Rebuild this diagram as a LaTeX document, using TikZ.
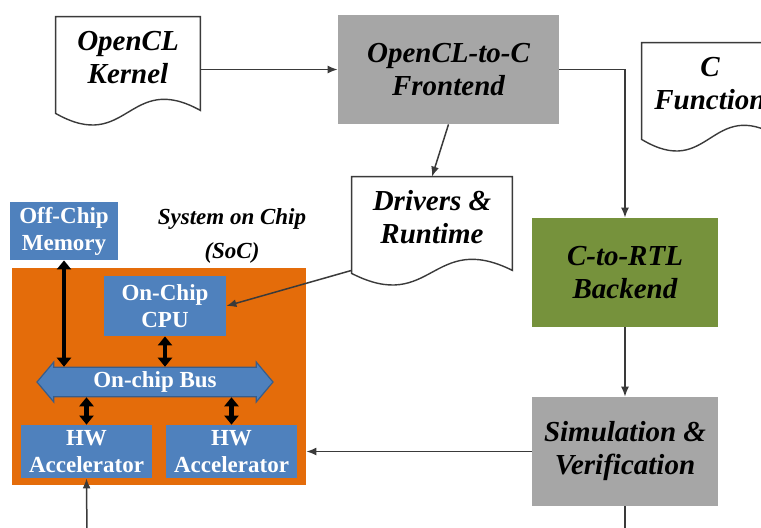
\documentclass[tikz,border=0pt]{standalone}
\usepackage{fontspec}
\setmainfont{Liberation Serif}
\usetikzlibrary{arrows.meta,shapes.arrows}

\definecolor{stagegray}{HTML}{A6A6A6}
\definecolor{rtlgreen}{HTML}{76923C}
\definecolor{socorange}{HTML}{E46C0A}
\definecolor{blockblue}{HTML}{4F81BD}
\definecolor{busedge}{HTML}{385D8A}
\definecolor{linegray}{HTML}{3A3A3A}

\newcommand{\docoutline}[1]{%
  \draw[docline] (#1.north west) -- (#1.north east) -- ([yshift=-6pt]#1.south east)
    .. controls ([yshift=14pt]#1.south) and ([yshift=-28pt]#1.south) .. ([yshift=-7.5pt]#1.south west) -- cycle;}

\begin{document}
\begin{tikzpicture}[x=0.5pt,y=-0.5pt]
  \tikzset{
    lbl/.style={font=\fontsize{14.5}{16.5}\selectfont\bfseries\itshape, align=center},
    docbox/.style={lbl, minimum width=72pt, minimum height=40.5pt, inner sep=0pt},
    docline/.style={draw=linegray, line width=0.7pt},
    stage/.style={lbl, minimum width=93pt, minimum height=54.5pt, inner sep=0pt},
    hwbox/.style={fill=blockblue, text=white, font=\fontsize{11.5}{13.5}\selectfont\bfseries,
      align=center, inner sep=0pt},
    busarrow/.style={double arrow, fill=blockblue, draw=busedge, line width=0.6pt, text=white,
      font=\fontsize{11.5}{13.5}\selectfont\bfseries, minimum height=118pt, minimum width=20pt,
      double arrow head extend=2pt, double arrow tip angle=100, inner sep=0pt},
    flow/.style={draw=linegray, line width=0.75pt, -{Latex[length=5pt,width=4pt]}},
    link/.style={line width=2.2pt, {Triangle[length=4.5pt,width=7pt]}-{Triangle[length=4.5pt,width=7pt]}}
  }
  \useasboundingbox (0,0) rectangle (761,527);
  \clip (0,0) rectangle (761,527);

  % tool flow
  \node[docbox] (kernel) at (128,57.5) {OpenCL\\Kernel};
  \node[stage, fill=stagegray, minimum width=110.5pt] (front) at (448.5,69.5) {OpenCL-to-C\\Frontend};
  \node[docbox, minimum width=68pt] (cfunc) at (710,83.5) {C\\Function};
  \node[docbox, minimum width=80pt] (drivers) at (432,217.5) {Drivers \&\\Runtime};
  \node[stage, fill=rtlgreen] (backend) at (625,272.5) {C-to-RTL\\Backend};
  \node[stage, fill=stagegray] (simver) at (625,451.5) {Simulation \&\\Verification};
  \docoutline{kernel}
  \docoutline{cfunc}
  \docoutline{drivers}

  % system on chip
  \node[fill=socorange, minimum width=147pt, minimum height=108.5pt, inner sep=0pt] (soc) at (159,376.5) {};
  \node[hwbox, minimum width=54pt, minimum height=29pt] (mem) at (64,231) {Off-Chip\\Memory};
  \node[lbl, font=\fontsize{11.5}{17}\selectfont\bfseries\itshape] (soclbl) at (232,236) {System on Chip\\(SoC)};
  \node[hwbox, minimum width=61pt, minimum height=30pt] (cpu) at (165,306) {On-Chip\\CPU};
  \node[busarrow] (bus) at (155,382) {On-chip Bus};
  \node[hwbox, minimum width=65.5pt, minimum height=26.5pt] (hwa) at (86.5,451.5) {HW\\Accelerator};
  \node[hwbox, minimum width=65.5pt, minimum height=26.5pt] (hwb) at (231.5,451.5) {HW\\Accelerator};

  \coordinate (drvcorner) at ([yshift=-6pt]drivers.south west);
  \coordinate (simout) at (625,540);
  \coordinate (hwin) at (87,540);

  \draw[flow] (kernel.east |- front.west) -- (front.west);
  \draw[flow] (front.east) -| (backend.north);
  \draw[flow] (front.south) -- (drivers.north);
  \draw[flow] (drvcorner) -- (cpu.east);
  \draw[flow] (backend) -- (simver);
  \draw[flow] (simver.west) -- (soc.east |- simver.west);
  \draw[docline] (simver.south) -- (simout);
  \draw[flow] (hwin) -- (hwa.south);

  \draw[link] (mem.south) -- (mem.south |- bus.north);
  \draw[link] (cpu.south) -- (cpu.south |- bus.north);
  \draw[link] (hwa.north) -- (hwa.north |- bus.south);
  \draw[link] (hwb.north) -- (hwb.north |- bus.south);
\end{tikzpicture}
\end{document}
